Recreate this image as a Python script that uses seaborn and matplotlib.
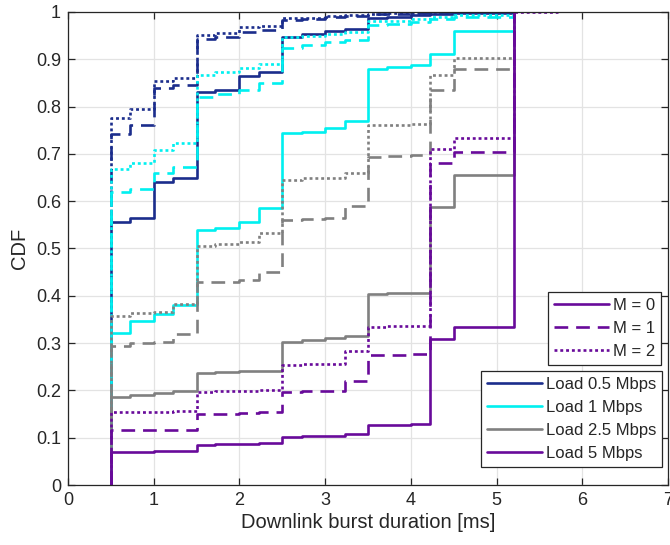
import matplotlib
matplotlib.use("Agg")
import matplotlib.pyplot as plt
import seaborn as sns
import pandas as pd
from matplotlib.lines import Line2D
from matplotlib.ticker import FuncFormatter, MultipleLocator

# ---------------- data ----------------
step_x = [0.5, 0.72, 1.0, 1.23, 1.5, 1.72, 2.0, 2.23, 2.5, 2.73, 3.0, 3.23,
          3.5, 3.72, 4.0, 4.22, 4.5, 5.2]

loads = ["Load 0.5 Mbps", "Load 1 Mbps", "Load 2.5 Mbps", "Load 5 Mbps"]
m_levels = ["M = 0", "M = 1", "M = 2"]

cdf_05_m0 = [0.556, 0.565, 0.640, 0.648, 0.830, 0.835, 0.865, 0.873, 0.947, 0.953,
             0.960, 0.964, 0.987, 0.990, 0.993, 0.996, 0.998, 1.0]
cdf_05_m1 = [0.742, 0.761, 0.840, 0.846, 0.943, 0.947, 0.958, 0.962, 0.983, 0.985,
             0.990, 0.991, 0.995, 0.996, 0.998, 0.999, 1.0, 1.0]
cdf_05_m2 = [0.776, 0.795, 0.854, 0.860, 0.951, 0.955, 0.968, 0.970, 0.987, 0.988,
             0.992, 0.993, 0.996, 0.997, 0.998, 0.999, 1.0, 1.0]

cdf_1_m0 = [0.322, 0.347, 0.361, 0.380, 0.540, 0.544, 0.557, 0.585, 0.744, 0.747,
            0.755, 0.770, 0.880, 0.884, 0.888, 0.911, 0.960, 1.0]
cdf_1_m1 = [0.620, 0.626, 0.660, 0.673, 0.820, 0.826, 0.836, 0.850, 0.924, 0.930,
            0.937, 0.940, 0.973, 0.975, 0.979, 0.985, 0.990, 1.0]
cdf_1_m2 = [0.668, 0.680, 0.708, 0.724, 0.867, 0.874, 0.881, 0.890, 0.947, 0.950,
            0.953, 0.958, 0.980, 0.982, 0.985, 0.990, 0.994, 1.0]

cdf_25_m0 = [0.186, 0.190, 0.194, 0.199, 0.237, 0.238, 0.240, 0.242, 0.303, 0.306,
             0.310, 0.316, 0.404, 0.405, 0.406, 0.588, 0.656, 1.0]
cdf_25_m1 = [0.294, 0.300, 0.303, 0.319, 0.429, 0.430, 0.433, 0.450, 0.560, 0.562,
             0.565, 0.590, 0.694, 0.695, 0.697, 0.835, 0.879, 1.0]
cdf_25_m2 = [0.357, 0.363, 0.365, 0.382, 0.506, 0.510, 0.513, 0.533, 0.645, 0.648,
             0.650, 0.659, 0.761, 0.762, 0.763, 0.867, 0.902, 1.0]

cdf_5_m0 = [0.070, 0.070, 0.072, 0.072, 0.085, 0.086, 0.086, 0.088, 0.102, 0.103,
            0.104, 0.107, 0.127, 0.127, 0.128, 0.309, 0.333, 1.0]
cdf_5_m1 = [0.116, 0.116, 0.117, 0.117, 0.150, 0.151, 0.152, 0.155, 0.197, 0.198,
            0.199, 0.220, 0.275, 0.275, 0.276, 0.681, 0.704, 1.0]
cdf_5_m2 = [0.154, 0.154, 0.155, 0.157, 0.197, 0.198, 0.199, 0.200, 0.254, 0.255,
            0.256, 0.283, 0.335, 0.336, 0.337, 0.710, 0.734, 1.0]
tail_5_m2 = (5.72, 1.0)   # the M=2, 5 Mbps curve continues a little at CDF = 1

series = {
    ("Load 0.5 Mbps", "M = 0"): cdf_05_m0,
    ("Load 0.5 Mbps", "M = 1"): cdf_05_m1,
    ("Load 0.5 Mbps", "M = 2"): cdf_05_m2,
    ("Load 1 Mbps", "M = 0"): cdf_1_m0,
    ("Load 1 Mbps", "M = 1"): cdf_1_m1,
    ("Load 1 Mbps", "M = 2"): cdf_1_m2,
    ("Load 2.5 Mbps", "M = 0"): cdf_25_m0,
    ("Load 2.5 Mbps", "M = 1"): cdf_25_m1,
    ("Load 2.5 Mbps", "M = 2"): cdf_25_m2,
    ("Load 5 Mbps", "M = 0"): cdf_5_m0,
    ("Load 5 Mbps", "M = 1"): cdf_5_m1,
    ("Load 5 Mbps", "M = 2"): cdf_5_m2,
}

rows = []
for (load, m), ys in series.items():
    rows.append((load, m, step_x[0], 0.0))
    for x, y in zip(step_x, ys):
        rows.append((load, m, x, y))
    if (load, m) == ("Load 5 Mbps", "M = 2"):
        rows.append((load, m, tail_5_m2[0], tail_5_m2[1]))
df = pd.DataFrame(rows, columns=["load", "m", "x", "cdf"])

# ---------------- style ----------------
sns.set_style("whitegrid")
plt.rcParams["font.family"] = ["Liberation Sans", "DejaVu Sans"]

colors = {"Load 0.5 Mbps": "#1b2d8c", "Load 1 Mbps": "#00f0f0",
          "Load 2.5 Mbps": "#808080", "Load 5 Mbps": "#680a9a"}
dash_map = {"M = 0": "", "M = 1": (5.2, 3.0), "M = 2": (1.1, 1.1)}
LW = 1.9

fig = plt.figure(figsize=(6.7, 5.45), dpi=100)
ax = fig.add_axes([68 / 670, 60 / 545, 600 / 670, 473 / 545])

sns.lineplot(data=df, x="x", y="cdf", hue="load", style="m",
             hue_order=loads, style_order=m_levels,
             palette=colors, dashes=dash_map, estimator=None,
             drawstyle="steps-post", linewidth=LW, legend=False, ax=ax)

ax.set_xlim(0, 7)
ax.set_ylim(0, 1)
ax.xaxis.set_major_locator(MultipleLocator(1))
ax.yaxis.set_major_locator(MultipleLocator(0.1))
ax.yaxis.set_major_formatter(FuncFormatter(
    lambda v, p: f"{int(round(v))}" if abs(v - round(v)) < 1e-9 else f"{v:.1f}"))
ax.set_xlabel("Downlink burst duration [ms]", fontsize=14.5, color="#262626", labelpad=3)
ax.set_ylabel("CDF", fontsize=14.5, color="#262626", labelpad=5)

ax.grid(True, color="#e3e3e3", linewidth=0.9)
ax.set_axisbelow(True)
for s in ax.spines.values():
    s.set_visible(True)
    s.set_color("#262626")
    s.set_linewidth(0.9)
ax.tick_params(direction="in", length=5, width=0.9, colors="#262626",
               labelsize=13, top=True, right=True, bottom=True, left=True,
               labelcolor="#262626", pad=5)

# legends
leg_kw = dict(fontsize=12, frameon=True, fancybox=False, framealpha=1,
              edgecolor="#262626", borderpad=0.35, labelspacing=0.48,
              handlelength=3.3, handletextpad=0.25, borderaxespad=0.0, loc="upper right")
m_handles = []
for m in m_levels:
    h = Line2D([], [], color=colors["Load 5 Mbps"], lw=LW)
    if dash_map[m]:
        h.set_linestyle((0, dash_map[m]))
    m_handles.append(h)
leg1 = ax.legend(m_handles, m_levels, bbox_to_anchor=(0.989, 0.408), **leg_kw)
leg1.get_frame().set_linewidth(0.9)
ax.add_artist(leg1)
load_handles = [Line2D([], [], color=colors[l], lw=LW) for l in loads]
leg2 = ax.legend(load_handles, loads, bbox_to_anchor=(0.99, 0.241), **leg_kw)
leg2.get_frame().set_linewidth(0.9)

fig.savefig("out.png", dpi=100)
